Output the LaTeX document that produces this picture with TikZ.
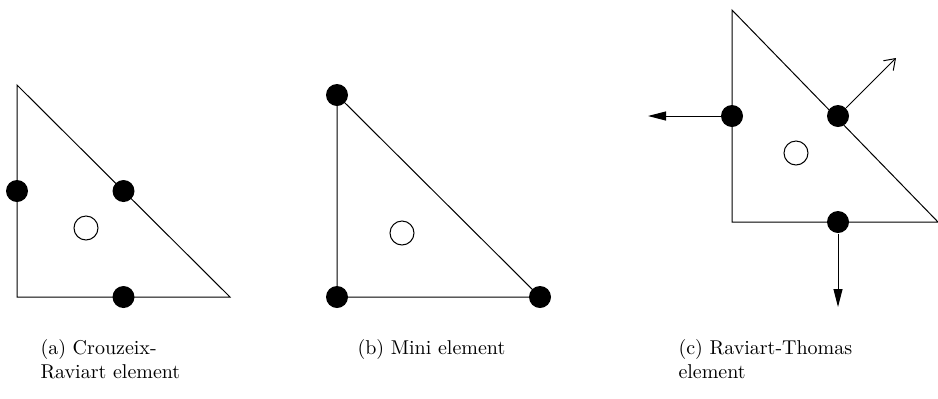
\documentclass[tikz,border=0pt]{standalone}
\usepackage{tikz}
\usetikzlibrary{arrows.meta, calc, positioning}

\begin{document}
\begin{tikzpicture}[x=0.5pt, y=-0.5pt, line width=0.5pt,
    dof/.style={circle, fill=black, inner sep=0pt, minimum size=11pt},
    bubble/.style={circle, draw=black, fill=white, inner sep=0pt, minimum size=12pt},
    caption/.style={anchor=north west, align=left, inner sep=0pt}]
      \useasboundingbox (0,0) rectangle (938,398);

      % (a) Crouzeix-Raviart
      \coordinate (A1) at (17,85);
      \coordinate (A2) at (17,297);
      \coordinate (A3) at (230,297);
      \draw (A1) -- (A2) -- (A3) -- cycle;
      \node[dof] (a12) at ($(A1)!0.5!(A2)$) {};
      \node[dof] (a13) at ($(A1)!0.5!(A3)$) {};
      \node[dof] (a23) at ($(A2)!0.5!(A3)$) {};
      \node[bubble] (ab) at (86,228) {};

      % (b) Mini element
      \coordinate (B1) at (337,95);
      \coordinate (B2) at (337,297);
      \coordinate (B3) at (540,297);
      \draw (B1) -- (B2) -- (B3) -- cycle;
      \node[dof] (b1) at (B1) {};
      \node[dof] (b2) at (B2) {};
      \node[dof] (b3) at (B3) {};
      \node[bubble] (bb) at (402,233) {};

      % (c) Raviart-Thomas
      \coordinate (C1) at (732,10);
      \coordinate (C2) at (732,222);
      \coordinate (C3) at (938,222);
      \draw (C1) -- (C2) -- (C3) -- cycle;
      \node[dof] (c12) at (732,116) {};
      \node[dof] (c13) at (838,116) {};
      \node[dof] (c23) at (838,222) {};
      \node[bubble] (cb) at (796,153) {};

      % Normals
      \coordinate (nl) at (648,116);
      \coordinate (nd) at (838,307);
      \coordinate (nr) at (896,58);
      \draw[-{Triangle[length=9pt, width=4.5pt]}] (c12) -- (nl);
      \draw[-{Triangle[length=9pt, width=4.5pt]}] (c23) -- (nd);
      \draw[-{Straight Barb[length=5pt, width=7pt]}] (c13) -- (nr);

      % Captions
      \node[caption] (capa) at (40,339) {(a) Crouzeix-\\Raviart element};
      \node[caption] (capb) at (357,339) {(b) Mini element};
      \node[caption] (capc) at (678,339) {(c) Raviart-Thomas\\element};
    \end{tikzpicture}
\end{document}
